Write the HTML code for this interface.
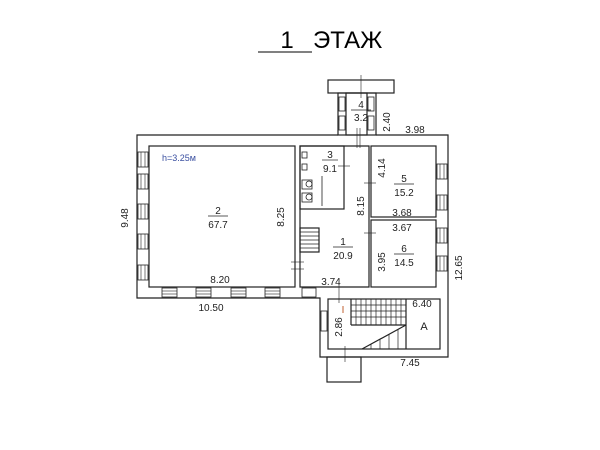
<!DOCTYPE html>
<html><head><meta charset="utf-8"><style>
html,body{margin:0;padding:0;background:#fff;}
svg{display:block;font-family:"Liberation Sans",sans-serif;}
</style></head><body>
<svg width="600" height="450" viewBox="0 0 600 450" xmlns="http://www.w3.org/2000/svg">
<rect width="600" height="450" fill="#fff"/>
<line x1="258" y1="52" x2="312" y2="52" stroke="#000" stroke-width="1"/>
<text x="287" y="48" font-size="24" text-anchor="middle">1</text>
<text x="313" y="48" font-size="24">ЭТАЖ</text>

<g fill="none" stroke="#222" stroke-width="1.2">
<path d="M338 135 H137 V298 H320 V357 H448 V135 H376"/>
<rect x="338" y="93" width="38" height="42"/>
<rect x="346" y="93" width="21" height="42"/>
<rect x="328" y="80" width="66" height="13"/>
<rect x="149" y="146" width="146" height="141"/>
<path d="M300 146 H369 V287 H300 Z"/>
<rect x="300" y="146" width="44" height="63"/>
<rect x="371" y="146" width="65" height="71"/>
<rect x="371" y="220" width="65" height="67"/>
<rect x="328" y="299" width="112" height="50"/>
<line x1="406" y1="299" x2="406" y2="349"/>
<line x1="351" y1="299" x2="351" y2="325"/>
<line x1="351" y1="325" x2="406" y2="325"/>
<line x1="362" y1="349" x2="406" y2="325"/>
<rect x="327" y="357" width="34" height="25"/>
<rect x="300" y="228" width="19" height="24"/>
</g>
<g stroke="#222" stroke-width="0.7">
<line x1="300" y1="232" x2="319" y2="232"/><line x1="300" y1="236" x2="319" y2="236"/><line x1="300" y1="240" x2="319" y2="240"/><line x1="300" y1="244" x2="319" y2="244"/><line x1="300" y1="248" x2="319" y2="248"/>
<line x1="356" y1="299" x2="356" y2="325"/><line x1="361" y1="299" x2="361" y2="325"/><line x1="366" y1="299" x2="366" y2="325"/><line x1="371" y1="299" x2="371" y2="325"/><line x1="376" y1="299" x2="376" y2="325"/><line x1="381" y1="299" x2="381" y2="325"/><line x1="386" y1="299" x2="386" y2="325"/><line x1="391" y1="299" x2="391" y2="325"/><line x1="396" y1="299" x2="396" y2="325"/><line x1="401" y1="299" x2="401" y2="325"/>
<line x1="351" y1="305" x2="406" y2="305"/><line x1="351" y1="311" x2="406" y2="311"/><line x1="351" y1="317" x2="406" y2="317"/>
<line x1="371" y1="344" x2="371" y2="349"/><line x1="380" y1="339" x2="380" y2="349"/><line x1="389" y1="334" x2="389" y2="349"/><line x1="398" y1="329" x2="398" y2="349"/>
</g>
<g fill="#fff" stroke="#222" stroke-width="0.8">
<rect x="138" y="152" width="10" height="15"/><rect x="138" y="174" width="10" height="15"/><rect x="138" y="204" width="10" height="15"/><rect x="138" y="234" width="10" height="15"/><rect x="138" y="265" width="10" height="15"/>
<rect x="162" y="288" width="15" height="9"/><rect x="196" y="288" width="15" height="9"/><rect x="231" y="288" width="15" height="9"/><rect x="265" y="288" width="15" height="9"/><rect x="302" y="288" width="14" height="9"/>
<rect x="437" y="164" width="10" height="15"/><rect x="437" y="195" width="10" height="15"/><rect x="437" y="228" width="10" height="15"/><rect x="437" y="256" width="10" height="15"/>
<rect x="339" y="97" width="6" height="14"/><rect x="339" y="116" width="6" height="14"/><rect x="368" y="97" width="6" height="14"/><rect x="368" y="116" width="6" height="14"/>
<rect x="321" y="311" width="6" height="20"/>
</g>
<g stroke="#222" stroke-width="0.6">
<line x1="141" y1="152" x2="141" y2="167"/><line x1="145" y1="152" x2="145" y2="167"/>
<line x1="141" y1="174" x2="141" y2="189"/><line x1="145" y1="174" x2="145" y2="189"/>
<line x1="141" y1="204" x2="141" y2="219"/><line x1="145" y1="204" x2="145" y2="219"/>
<line x1="141" y1="234" x2="141" y2="249"/><line x1="145" y1="234" x2="145" y2="249"/>
<line x1="141" y1="265" x2="141" y2="280"/><line x1="145" y1="265" x2="145" y2="280"/>
<line x1="440" y1="164" x2="440" y2="179"/><line x1="444" y1="164" x2="444" y2="179"/>
<line x1="440" y1="195" x2="440" y2="210"/><line x1="444" y1="195" x2="444" y2="210"/>
<line x1="440" y1="228" x2="440" y2="243"/><line x1="444" y1="228" x2="444" y2="243"/>
<line x1="440" y1="256" x2="440" y2="271"/><line x1="444" y1="256" x2="444" y2="271"/>
<line x1="162" y1="291" x2="177" y2="291"/><line x1="162" y1="294" x2="177" y2="294"/>
<line x1="196" y1="291" x2="211" y2="291"/><line x1="196" y1="294" x2="211" y2="294"/>
<line x1="231" y1="291" x2="246" y2="291"/><line x1="231" y1="294" x2="246" y2="294"/>
<line x1="265" y1="291" x2="280" y2="291"/><line x1="265" y1="294" x2="280" y2="294"/>
<line x1="357" y1="128" x2="357" y2="148"/><line x1="360" y1="128" x2="360" y2="148"/>
<line x1="361" y1="75" x2="361" y2="98"/>
<line x1="291" y1="262" x2="304" y2="262"/><line x1="291" y1="269" x2="304" y2="269"/>
<line x1="338" y1="166" x2="350" y2="166"/>
<line x1="364" y1="183" x2="376" y2="183"/><line x1="364" y1="233" x2="376" y2="233"/>
<line x1="339" y1="283" x2="339" y2="303"/>
<line x1="345" y1="346" x2="345" y2="362"/>
</g>
<g fill="none" stroke="#222" stroke-width="0.8">
<rect x="302" y="152" width="5" height="6"/><rect x="302" y="164" width="5" height="6"/>
<rect x="302" y="180" width="10" height="9"/><circle cx="309" cy="184" r="3"/>
<rect x="302" y="193" width="10" height="9"/><circle cx="309" cy="197" r="3"/>
<line x1="322" y1="176" x2="322" y2="206"/>
</g>
<g font-size="10" fill="#222" text-anchor="middle">
<text x="361" y="108">4</text><line x1="351" y1="110" x2="371" y2="110" stroke="#222" stroke-width="0.7"/><text x="361" y="121">3.2</text>
<text x="330" y="158">3</text><line x1="322" y1="160" x2="338" y2="160" stroke="#222" stroke-width="0.7"/><text x="330" y="172">9.1</text>
<text x="218" y="214">2</text><line x1="208" y1="216" x2="228" y2="216" stroke="#222" stroke-width="0.7"/><text x="218" y="228">67.7</text>
<text x="343" y="245">1</text><line x1="333" y1="247" x2="353" y2="247" stroke="#222" stroke-width="0.7"/><text x="343" y="259">20.9</text>
<text x="404" y="182">5</text><line x1="394" y1="184" x2="414" y2="184" stroke="#222" stroke-width="0.7"/><text x="404" y="196">15.2</text>
<text x="404" y="252">6</text><line x1="394" y1="254" x2="414" y2="254" stroke="#222" stroke-width="0.7"/><text x="404" y="266">14.5</text>
<text x="424" y="330" font-size="11">A</text>
<text x="415" y="133">3.98</text>
<text x="402" y="216">3.68</text>
<text x="402" y="231">3.67</text>
<text x="220" y="283">8.20</text>
<text x="211" y="311">10.50</text>
<text x="331" y="285">3.74</text>
<text x="422" y="307">6.40</text>
<text x="410" y="366">7.45</text>
</g>
<text x="162" y="161" font-size="9" fill="#3a4fa0">h=3.25м</text>
<g font-size="10" fill="#222" text-anchor="middle">
<text transform="translate(390,122) rotate(-90)">2.40</text>
<text transform="translate(385,168) rotate(-90)">4.14</text>
<text transform="translate(364,206) rotate(-90)">8.15</text>
<text transform="translate(284,217) rotate(-90)">8.25</text>
<text transform="translate(128,218) rotate(-90)">9.48</text>
<text transform="translate(385,262) rotate(-90)">3.95</text>
<text transform="translate(462,268) rotate(-90)">12.65</text>
<text transform="translate(342,327) rotate(-90)">2.86</text>
</g>
<line x1="343" y1="306" x2="343" y2="313" stroke="#c06030" stroke-width="1"/>
</svg>
</body></html>
